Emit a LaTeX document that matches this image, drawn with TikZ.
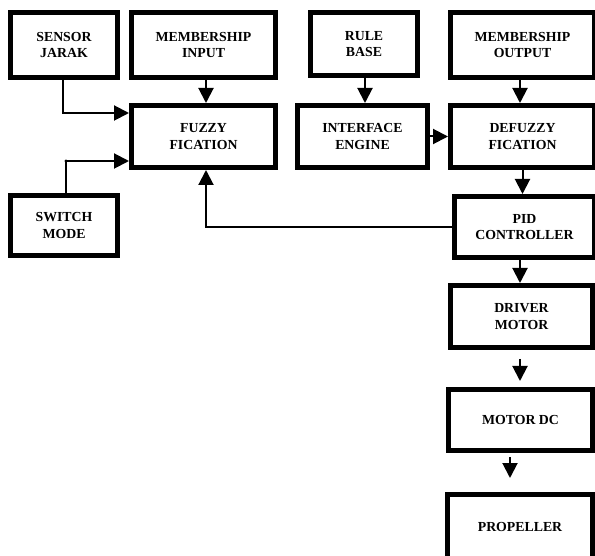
\documentclass[tikz,border=0pt]{standalone}
\usepackage{fontspec}
\setmainfont{Liberation Serif}
\usetikzlibrary{arrows.meta,calc}
\tikzset{
  blk/.style={draw=black, line width=5pt, fill=white, align=center, inner sep=0pt,
    font=\fontsize{13.8}{16.5}\selectfont\bfseries},
  arr/.style={line width=2pt, -{Triangle[length=15pt,width=15pt]}},
  ln/.style={line width=2pt}
}
\begin{document}
\begin{tikzpicture}[x=1pt,y=-1pt]
\clip (0,0) rectangle (595,556);
\fill[white] (0,0) rectangle (595,556);
\node[blk, minimum width=107pt, minimum height=65pt] (sensor) at (64,45) {SENSOR\\JARAK};
\node[blk, minimum width=144pt, minimum height=65pt] (memin) at (203.5,45) {MEMBERSHIP\\INPUT};
\node[blk, minimum width=144pt, minimum height=62pt] (fuzzy) at (203.5,136.5) {FUZZY\\FICATION};
\node[blk, minimum width=107pt, minimum height=60pt] (switch) at (64,225.5) {SWITCH\\MODE};
\node[blk, minimum width=107pt, minimum height=63pt] (rule) at (364,44) {RULE\\BASE};
\node[blk, minimum width=144pt, minimum height=65pt] (memout) at (522.5,45) {MEMBERSHIP\\OUTPUT};
\node[blk, minimum width=130pt, minimum height=62pt] (iface) at (362.5,136.5) {INTERFACE\\ENGINE};
\node[blk, minimum width=144pt, minimum height=62pt] (defuzzy) at (522.5,136.5) {DEFUZZY\\FICATION};
\node[blk, minimum width=140pt, minimum height=61pt] (pid) at (524.5,227) {PID\\CONTROLLER};
\node[blk, minimum width=142pt, minimum height=62pt] (driver) at (521.5,316.5) {DRIVER\\MOTOR};
\node[blk, minimum width=144pt, minimum height=61pt] (motordc) at (520.5,420) {MOTOR DC};
\node[blk, minimum width=145pt, minimum height=65pt] (prop) at (520,527) {PROPELLER};

\coordinate (sj) at ($(fuzzy.west)+(0,-23.5)$);
\coordinate (sm) at ($(fuzzy.west)+(0,24.5)$);
\coordinate (s0) at ($(sensor.south)+(-1,0)$);
\coordinate (w0) at ($(switch.north)+(2,0)$);
\coordinate (m0) at ($(memin.south)+(2.5,0)$);
\coordinate (r0) at ($(rule.south)+(1,0)$);
\coordinate (o0) at ($(memout.south)+(-2.5,0)$);
\coordinate (f1) at ($(fuzzy.south)+(2.5,0)$);
\coordinate (p0) at ($(pid.south)+(-4.5,0)$);
\coordinate (d0) at ($(driver.south)+(-1.5,0)$);
\coordinate (c0) at ($(motordc.south)+(-10.5,0)$);

\draw[arr] (s0) |- (sj);
\draw[arr] (w0) |- (sm);
\fill (w0 |- sm) circle (1.6pt);
\draw[arr] (m0) -- (m0 |- fuzzy.north);
\draw[arr] (r0) -- (r0 |- iface.north);
\draw[arr] (o0) -- (o0 |- defuzzy.north);
\draw[arr] (iface.east) -- (defuzzy.west);
\draw[arr] (defuzzy.south) -- (defuzzy.south |- pid.north);
\draw[arr] (pid.west) -| (f1);
\draw[arr] (p0) -- (p0 |- driver.north);
\draw[arr, shorten <=9pt, shorten >=6pt] (d0) -- (d0 |- motordc.north);
\draw[arr, shorten <=4pt, shorten >=14pt] (c0) -- (c0 |- prop.north);
\end{tikzpicture}
\end{document}
